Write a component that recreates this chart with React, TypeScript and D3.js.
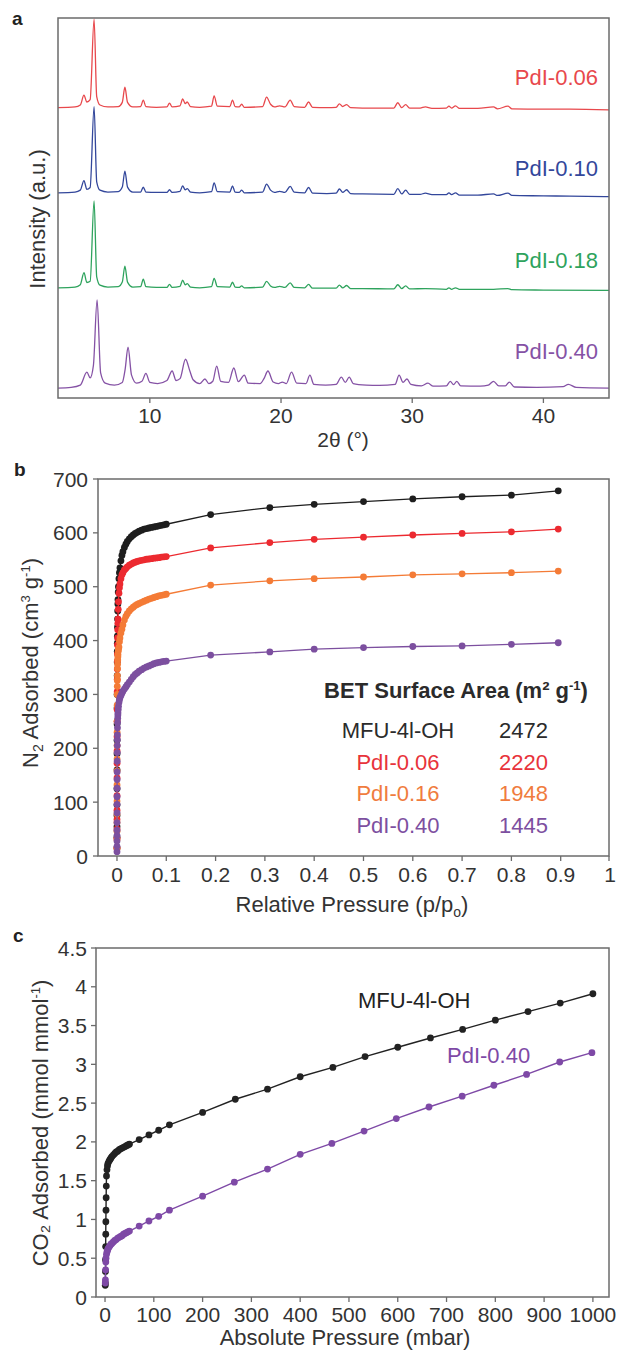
import React from 'react'
import * as d3 from 'd3'

type Pt = [number, number]

const FONT = '"Liberation Sans", Arial, Helvetica, sans-serif'
const TEXT = '#333333'
const FRAME = '#6b6b6b'

// ---------- panel a : PXRD patterns (2theta, intensity above own baseline) ----------
const xrdNames = ['PdI-0.06', 'PdI-0.10', 'PdI-0.18', 'PdI-0.40']
const xrdColors = ['#e8484c', '#33479b', '#2ea35d', '#8552a5']
const xrdOffsets = [76.3, 53.9, 28.9, 2.6]
const xrdTicks = [10, 20, 30, 40]

const xrdRed: Pt[] = [
  [3.0, 0.1], [4.3, 0.3], [4.7, 0.8], [4.98, 3.4], [5.2, 1.6], [5.45, 2.2], [5.75, 23.4], [5.95, 3.0],
  [6.2, 0.8], [6.8, 0.3], [7.6, 0.4], [7.9, 1.5], [8.1, 5.5], [8.3, 1.5], [8.7, 0.3], [9.3, 0.4],
  [9.5, 2.1], [9.7, 0.4], [10.5, 0.2], [11.3, 0.3], [11.5, 1.3], [11.7, 0.3], [12.3, 0.6], [12.5, 2.4],
  [12.7, 1.2], [12.85, 1.6], [13.1, 0.4], [13.8, 0.2], [14.7, 0.5], [14.9, 3.2], [15.15, 0.5], [16.1, 0.4],
  [16.3, 2.1], [16.5, 0.4], [16.8, 0.3], [17.0, 1.0], [17.2, 0.2], [18.6, 0.4], [18.9, 2.9], [19.2, 1.0],
  [19.5, 0.3], [19.9, 0.6], [20.3, 0.3], [20.7, 2.1], [21.0, 0.4], [21.8, 0.2], [22.1, 1.6], [22.4, 0.2],
  [23.5, 0.1], [24.2, 0.2], [24.45, 1.1], [24.7, 0.4], [25.0, 0.9], [25.3, 0.1], [26.2, 0.0], [28.6, 0.0],
  [28.9, 1.4], [29.2, 0.1], [29.5, 0.9], [29.8, 0.0], [30.6, 0.0], [31.0, 0.3], [31.5, -0.1], [32.6, 0.0],
  [32.8, 0.5], [33.0, 0.0], [33.3, 0.6], [33.6, -0.1], [35.0, -0.1], [36.2, 0.3], [36.5, -0.2], [37.3, 0.5],
  [37.6, -0.2], [40.0, -0.3], [42.0, -0.3], [45.0, -0.5],
]

const xrdBlue: Pt[] = [
  [3.0, 0.1], [4.3, 0.3], [4.7, 0.8], [4.98, 3.3], [5.2, 1.0], [5.45, 1.5], [5.75, 22.8], [5.95, 3.0],
  [6.2, 0.8], [6.8, 0.3], [7.6, 0.4], [7.9, 1.6], [8.1, 5.8], [8.3, 1.6], [8.7, 0.3], [9.3, 0.3],
  [9.5, 1.6], [9.7, 0.3], [10.5, 0.2], [11.3, 0.2], [11.5, 0.9], [11.7, 0.2], [12.3, 0.5], [12.5, 1.9],
  [12.7, 0.9], [12.85, 1.2], [13.1, 0.3], [13.8, 0.1], [14.7, 0.4], [14.9, 2.7], [15.15, 0.4], [16.1, 0.3],
  [16.3, 1.9], [16.5, 0.3], [16.8, 0.2], [17.0, 0.8], [17.2, 0.1], [18.6, 0.3], [18.9, 2.4], [19.2, 0.8],
  [19.5, 0.2], [19.9, 0.5], [20.3, 0.2], [20.7, 1.8], [21.0, 0.3], [21.8, 0.1], [22.1, 1.5], [22.4, 0.0],
  [23.5, -0.1], [24.2, 0.0], [24.45, 1.1], [24.7, 0.2], [25.0, 0.9], [25.3, -0.1], [26.2, -0.2], [28.6, -0.3],
  [28.9, 1.2], [29.2, -0.2], [29.5, 0.8], [29.8, -0.3], [30.6, -0.3], [31.0, 0.0], [31.5, -0.4], [32.6, -0.4],
  [32.8, 0.1], [33.0, -0.4], [33.3, 0.1], [33.6, -0.5], [35.0, -0.5], [36.2, -0.2], [36.5, -0.6], [37.3, 0.0],
  [37.6, -0.6], [40.0, -0.7], [42.0, -0.8], [45.0, -0.9],
]

const xrdGreen: Pt[] = [
  [3.0, 0.1], [4.3, 0.3], [4.7, 0.9], [4.98, 4.1], [5.2, 1.5], [5.45, 1.8], [5.75, 23.0], [5.95, 3.0],
  [6.2, 0.8], [6.8, 0.3], [7.6, 0.4], [7.9, 1.6], [8.1, 5.8], [8.3, 1.6], [8.7, 0.3], [9.3, 0.4],
  [9.5, 2.4], [9.7, 0.4], [10.5, 0.2], [11.3, 0.2], [11.5, 1.0], [11.7, 0.2], [12.3, 0.5], [12.5, 2.1],
  [12.7, 0.9], [12.85, 1.2], [13.1, 0.3], [13.8, 0.1], [14.7, 0.4], [14.9, 2.6], [15.15, 0.4], [16.1, 0.3],
  [16.3, 1.6], [16.5, 0.3], [16.8, 0.2], [17.0, 0.6], [17.2, 0.1], [18.6, 0.3], [18.9, 1.8], [19.2, 0.6],
  [19.5, 0.2], [19.9, 0.5], [20.3, 0.2], [20.7, 1.4], [21.0, 0.2], [21.8, 0.1], [22.1, 1.0], [22.4, 0.0],
  [23.5, 0.0], [24.2, 0.0], [24.45, 0.8], [24.7, 0.1], [25.0, 0.7], [25.3, -0.1], [26.2, -0.1], [28.6, -0.2],
  [28.9, 0.9], [29.2, -0.1], [29.5, 0.6], [29.8, -0.2], [31.0, -0.1], [32.6, -0.3], [32.8, 0.1], [33.0, -0.3],
  [33.3, 0.1], [33.6, -0.3], [36.2, -0.3], [37.3, -0.1], [37.6, -0.4], [40.0, -0.5], [45.0, -0.6],
]

const xrdPurple: Pt[] = [
  [3.0, 0.0], [4.0, 0.2], [4.7, 0.8], [5.2, 4.2], [5.45, 2.7], [5.7, 6.0], [5.98, 23.2], [6.25, 4.0],
  [6.6, 1.3], [7.3, 0.8], [7.9, 1.5], [8.12, 5.0], [8.34, 10.8], [8.6, 3.5], [9.0, 1.3], [9.4, 1.8],
  [9.7, 3.9], [10.0, 1.5], [10.6, 1.2], [11.3, 2.0], [11.7, 4.5], [12.0, 2.0], [12.3, 2.5], [12.72, 7.6],
  [13.05, 4.5], [13.3, 2.2], [13.8, 1.2], [14.2, 2.4], [14.5, 1.2], [14.8, 1.8], [15.1, 5.8], [15.4, 1.8],
  [16.0, 1.5], [16.4, 5.3], [16.75, 1.7], [17.2, 3.4], [17.5, 1.3], [18.4, 1.2], [18.7, 2.5], [19.0, 4.5],
  [19.4, 1.6], [19.8, 1.2], [20.1, 1.6], [20.4, 1.2], [20.8, 4.2], [21.2, 1.3], [21.9, 1.2], [22.2, 3.4],
  [22.5, 1.0], [23.4, 0.8], [24.2, 1.0], [24.6, 2.9], [24.9, 1.5], [25.2, 2.9], [25.5, 1.2], [26.5, 0.8],
  [27.5, 0.7], [28.7, 1.0], [29.0, 3.4], [29.3, 1.5], [29.6, 2.4], [29.9, 1.0], [30.7, 0.6], [31.2, 1.3],
  [31.6, 0.5], [32.6, 0.6], [32.9, 1.8], [33.15, 0.9], [33.4, 1.8], [33.7, 0.6], [35.2, 0.5], [35.8, 0.8],
  [36.2, 1.8], [36.6, 0.6], [37.1, 0.6], [37.4, 1.6], [37.8, 0.3], [39.5, 0.2], [41.5, 0.4], [41.9, 1.0],
  [42.5, 0.2], [45.0, 0.0],
]

const xrdSeries = [xrdRed, xrdBlue, xrdGreen, xrdPurple]

// ---------- panel b : N2 isotherms at 77 K ----------
const n2Names = ['MFU-4l-OH', 'PdI-0.06', 'PdI-0.16', 'PdI-0.40']
const n2Colors = ['#1e1e1e', '#ec2a30', '#f47b36', '#7c4f9f']
const betValues = [2472, 2220, 1948, 1445]
const betTextColors = ['#2b2b2b', '#e8333b', '#f07c3e', '#7d4fa0']
const n2XTicks = [0, 0.1, 0.2, 0.3, 0.4, 0.5, 0.6, 0.7, 0.8, 0.9, 1]
const n2YTicks = [0, 100, 200, 300, 400, 500, 600, 700]

const n2Pressure = [
  0.00001, 0.00002, 0.00003, 0.00004, 0.00005, 0.00007, 0.0001, 0.00013, 0.00016, 0.0002,
  0.00025, 0.0003, 0.0004, 0.0005, 0.0006, 0.0007, 0.0008, 0.001, 0.0012, 0.0015,
  0.0018, 0.002, 0.0025, 0.003, 0.004, 0.005, 0.006, 0.008, 0.01, 0.012,
  0.015, 0.018, 0.021, 0.025, 0.029, 0.033, 0.037, 0.041, 0.045, 0.05,
  0.055, 0.06, 0.065, 0.07, 0.075, 0.08, 0.085, 0.09, 0.095, 0.1,
  0.19, 0.31, 0.4, 0.5, 0.6, 0.7, 0.8, 0.895,
]
const n2Mfu = [
  15, 35, 55, 75, 95, 125, 160, 190, 215, 245,
  275, 300, 335, 360, 380, 395, 408, 425, 440, 455,
  468, 476, 490, 500, 515, 526, 535, 548, 558, 565,
  573, 579, 584, 589, 593, 596, 599, 601, 603, 605,
  607, 608, 609, 610, 611, 612, 613, 614, 615, 616,
  634, 647, 653, 658, 663, 667, 670, 678,
]
const n2Pd006 = [
  15, 33, 50, 68, 85, 112, 145, 172, 195, 222,
  250, 272, 305, 328, 347, 362, 375, 392, 405, 420,
  432, 440, 458, 472, 488, 498, 505, 515, 522, 526,
  531, 534, 537, 540, 542, 544, 545.5, 547, 548, 549,
  550, 551, 551.5, 552, 553, 553.5, 554, 555, 555.5, 556,
  572, 582, 588, 592, 596, 599, 602, 607,
]
const n2Pd016 = [
  14, 30, 46, 62, 78, 102, 132, 158, 180, 205,
  230, 250, 280, 300, 315, 326, 335, 348, 356, 364,
  370, 374, 380, 384, 388, 398, 405, 414, 421, 429,
  438, 445, 450, 455, 459, 462, 465, 467, 469, 471,
  473, 475, 477, 478.5, 480, 481.5, 483, 484, 485, 486,
  503, 511, 515, 518, 522, 524, 526, 529,
]
const n2Pd040 = [
  8, 18, 28, 38, 48, 62, 80, 96, 110, 126,
  142, 156, 176, 192, 205, 216, 225, 238, 248, 256,
  262, 266, 272, 278, 285, 290, 294, 298, 302, 306,
  310, 314, 318, 323, 328, 333, 337, 340, 343, 346,
  349, 351, 353, 355, 357, 358.5, 359.5, 360.5, 361.3, 362,
  373, 379, 384, 387, 389, 390, 393, 396,
]
const n2Series = [n2Mfu, n2Pd006, n2Pd016, n2Pd040]

// ---------- panel c : CO2 isotherms ----------
const co2XTicks = [0, 100, 200, 300, 400, 500, 600, 700, 800, 900, 1000]
const co2YTicks = [0, 0.5, 1, 1.5, 2, 2.5, 3, 3.5, 4, 4.5]
const co2Names = ['MFU-4l-OH', 'PdI-0.40']
const co2Colors = ['#222222', '#7e49a6']

const co2MfuP = [
  0.5, 0.7, 0.9, 1.1, 1.3, 1.5, 1.7, 2, 2.3, 2.6,
  3, 4, 5, 6, 8, 10, 12, 14, 17, 20,
  23, 26, 29, 32, 35, 38, 41, 44, 47, 50,
  70, 90, 110, 132, 200, 267, 333, 400, 467, 533,
  600, 667, 733, 800, 867, 933, 1000,
]
const co2MfuQ = [
  0.15, 0.18, 0.33, 0.48, 0.65, 0.81, 0.97, 1.12, 1.28, 1.43,
  1.56, 1.64, 1.69, 1.72, 1.75, 1.77, 1.79, 1.81, 1.83, 1.85,
  1.87, 1.88, 1.9, 1.91, 1.92, 1.93, 1.94, 1.95, 1.96, 1.97,
  2.03, 2.09, 2.15, 2.22, 2.38, 2.55, 2.68, 2.84, 2.96, 3.1,
  3.22, 3.34, 3.45, 3.57, 3.68, 3.79, 3.91,
]
const co2PdP = [
  0.5, 0.8, 1.2, 1.6, 2, 3, 4, 5, 6, 8,
  10, 12, 14, 17, 20, 23, 26, 29, 32, 35,
  38, 41, 44, 47, 50, 70, 90, 110, 132, 200,
  265, 333, 400, 465, 531, 597, 664, 732, 797, 864,
  932, 998,
]
const co2PdQ = [
  0.18, 0.22, 0.35, 0.45, 0.5, 0.55, 0.58, 0.6, 0.62, 0.64,
  0.66, 0.68, 0.69, 0.71, 0.73, 0.74, 0.76, 0.77, 0.78, 0.79,
  0.81, 0.82, 0.83, 0.84, 0.85, 0.915, 0.98, 1.04, 1.12, 1.3,
  1.48, 1.65, 1.84, 1.98, 2.14, 2.3, 2.45, 2.59, 2.73, 2.87,
  3.03, 3.15,
]
const co2Series = [
  co2MfuP.map((p, i) => [p, co2MfuQ[i]] as Pt),
  co2PdP.map((p, i) => [p, co2PdQ[i]] as Pt),
]

const fmt = (v: number) => String(Math.round(v * 10) / 10)

function Box({ x0, y0, x1, y1 }: { x0: number; y0: number; x1: number; y1: number }) {
  return <rect x={x0} y={y0} width={x1 - x0} height={y1 - y0} fill="none" stroke={FRAME} strokeWidth={1.5} />
}

function XrdPanel() {
  const x = d3.scaleLinear().domain([3, 45]).range([58, 609])
  const y = d3.scaleLinear().domain([0, 100]).range([398, 18])
  const labelLift = [23, 17, 20, 29]
  return (
    <g>
      <text x={12} y={25} fontSize={19} fontWeight="bold" fill="#222">a</text>
      {xrdSeries.map((s, i) => {
        const line = d3
          .line<Pt>()
          .x((d) => x(d[0]))
          .y((d) => y(d[1] + xrdOffsets[i]))
          .curve(d3.curveMonotoneX)
        return <path key={i} d={line(s) || ''} fill="none" stroke={xrdColors[i]} strokeWidth={1.3} />
      })}
      {xrdNames.map((n, i) => (
        <text key={n} x={598} y={y(xrdOffsets[i]) - labelLift[i]} textAnchor="end" fontSize={22} fill={xrdColors[i]}>
          {n}
        </text>
      ))}
      <Box x0={58} y0={18} x1={609} y1={398} />
      {xrdTicks.map((t) => (
        <g key={t}>
          <line x1={x(t)} x2={x(t)} y1={398} y2={403} stroke={FRAME} strokeWidth={1.3} />
          <text x={x(t)} y={423} textAnchor="middle" fontSize={21} fill={TEXT}>{t}</text>
        </g>
      ))}
      <text x={343} y={447} textAnchor="middle" fontSize={21} fill={TEXT}>2θ (°)</text>
      <text transform="translate(45,219) rotate(-90)" textAnchor="middle" fontSize={22} fill={TEXT}>
        Intensity (a.u.)
      </text>
    </g>
  )
}

function N2Panel() {
  const x = d3.scaleLinear().domain([-0.0385, 1.0]).range([98, 610])
  const y = d3.scaleLinear().domain([0, 700]).range([856, 479])
  const line = d3
    .line<Pt>()
    .x((d) => x(d[0]))
    .y((d) => y(d[1]))
  const rows = [738, 769.5, 801, 832.5]
  return (
    <g>
      <text x={14} y={476} fontSize={19} fontWeight="bold" fill="#222">b</text>
      {n2Series.map((vals, i) => {
        const pts = vals.map((v, j) => [n2Pressure[j], v] as Pt)
        return (
          <g key={i}>
            <path d={line(pts) || ''} fill="none" stroke={n2Colors[i]} strokeWidth={1.3} />
            {pts.map((d, j) => (
              <circle key={j} cx={x(d[0])} cy={y(d[1])} r={3.4} fill={n2Colors[i]} />
            ))}
          </g>
        )
      })}
      <Box x0={98} y0={479} x1={609} y1={856} />
      {n2XTicks.map((t) => (
        <g key={t}>
          <line x1={Math.min(x(t), 609)} x2={Math.min(x(t), 609)} y1={856} y2={861} stroke={FRAME} strokeWidth={1.3} />
          <text x={x(t)} y={882} textAnchor="middle" fontSize={21} fill={TEXT}>{fmt(t)}</text>
        </g>
      ))}
      {n2YTicks.map((t) => (
        <g key={t}>
          <line x1={93} x2={98} y1={y(t)} y2={y(t)} stroke={FRAME} strokeWidth={1.3} />
          <text x={88} y={y(t) + 7.5} textAnchor="end" fontSize={21} fill={TEXT}>{t}</text>
        </g>
      ))}
      <text x={352} y={912} textAnchor="middle" fontSize={22} fill={TEXT}>
        Relative Pressure (p/p<tspan dy={5} fontSize={14}>o</tspan>
        <tspan dy={-5}>)</tspan>
      </text>
      <text transform="translate(38,663) rotate(-90)" textAnchor="middle" fontSize={22} fill={TEXT}>
        N<tspan dy={5} fontSize={14}>2</tspan>
        <tspan dy={-5}> Adsorbed (cm</tspan>
        <tspan dy={-8} fontSize={13}>3</tspan>
        <tspan dy={8}> g</tspan>
        <tspan dy={-8} fontSize={13}>-1</tspan>
        <tspan dy={8}>)</tspan>
      </text>
      <text x={456} y={698} textAnchor="middle" fontSize={22} fontWeight="bold" fill="#2b2b2b">
        BET Surface Area (m² g<tspan dy={-8} fontSize={13}>-1</tspan>
        <tspan dy={8}>)</tspan>
      </text>
      {n2Names.map((n, i) => (
        <g key={n}>
          <text x={398} y={rows[i]} textAnchor="middle" fontSize={22} fill={betTextColors[i]}>{n}</text>
          <text x={548} y={rows[i]} textAnchor="end" fontSize={22} fill={betTextColors[i]}>{betValues[i]}</text>
        </g>
      ))}
    </g>
  )
}

function Co2Panel() {
  const x = d3.scaleLinear().domain([-18.5, 1033]).range([96, 609])
  const y = d3.scaleLinear().domain([0, 4.5]).range([1297, 948])
  const line = d3
    .line<Pt>()
    .x((d) => x(d[0]))
    .y((d) => y(d[1]))
  const labelPos = [
    [358, 1008],
    [447, 1063],
  ]
  return (
    <g>
      <text x={13} y={942} fontSize={19} fontWeight="bold" fill="#222">c</text>
      {co2Series.map((pts, i) => (
        <g key={i}>
          <path d={line(pts) || ''} fill="none" stroke={co2Colors[i]} strokeWidth={1.4} />
          {pts.map((d, j) => (
            <circle key={j} cx={x(d[0])} cy={y(d[1])} r={3.4} fill={co2Colors[i]} />
          ))}
        </g>
      ))}
      {co2Names.map((n, i) => (
        <text key={n} x={labelPos[i][0]} y={labelPos[i][1]} fontSize={22} fill={co2Colors[i]}>{n}</text>
      ))}
      <Box x0={96} y0={948} x1={609} y1={1297} />
      {co2XTicks.map((t) => (
        <g key={t}>
          <line x1={x(t)} x2={x(t)} y1={1297} y2={1302} stroke={FRAME} strokeWidth={1.3} />
          <text x={x(t)} y={1322} textAnchor="middle" fontSize={21} fill={TEXT}>{t}</text>
        </g>
      ))}
      {co2YTicks.map((t) => (
        <g key={t}>
          <line x1={91} x2={96} y1={y(t)} y2={y(t)} stroke={FRAME} strokeWidth={1.3} />
          <text x={87} y={y(t) + 7.5} textAnchor="end" fontSize={21} fill={TEXT}>{fmt(t)}</text>
        </g>
      ))}
      <text x={345} y={1345} textAnchor="middle" fontSize={22} fill={TEXT}>Absolute Pressure (mbar)</text>
      <text transform="translate(48,1123) rotate(-90)" textAnchor="middle" fontSize={22} fill={TEXT}>
        CO₂ Adsorbed (mmol mmol<tspan dy={-8} fontSize={13}>-1</tspan>
        <tspan dy={8}>)</tspan>
      </text>
    </g>
  )
}

export default function App() {
  return (
    <svg
      width={619}
      height={1350}
      style={{ position: 'absolute', left: 0, top: 0, background: '#fff', fontFamily: FONT }}
    >
      <XrdPanel />
      <N2Panel />
      <Co2Panel />
    </svg>
  )
}
